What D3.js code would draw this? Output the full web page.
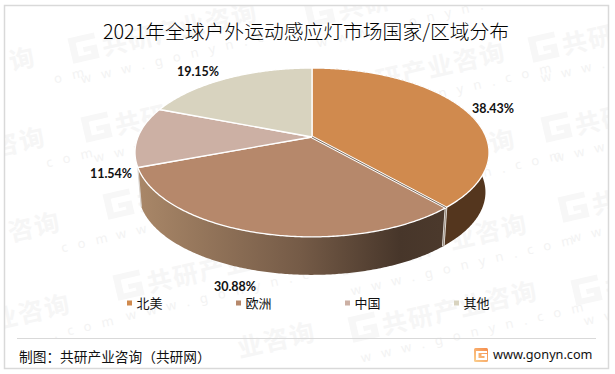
<!DOCTYPE html>
<html>
<head>
<meta charset="utf-8">
<script src="https://cdn.jsdelivr.net/npm/d3@7"></script>
<style>
  html, body { margin: 0; padding: 0; background: #fff; }
  svg { display: block; }
</style>
</head>
<body>
<div id="container"></div>
<script>
/* DATA */
const categories = ["北美", "欧洲", "中国", "其他"];
const shares = [38.43, 30.88, 11.54, 19.15];
const shareLabels = ["38.43%", "30.88%", "11.54%", "19.15%"];
const topColors = ["#d08a4e", "#b6886b", "#ccb0a4", "#d8d3bf"];

/* CONSTANTS */
const width = 615, height = 374;
const cjk = "'Noto Sans CJK SC', 'Noto Sans', sans-serif";

// pie plane: centre, half axes, perspective and wall height
const cx = 312, cy = 137, rx = 174, ry = 81.6, persp = 0.183, wall = 40, shrink = 0.98;
// label spots, same order as the categories
const labelX = [493, 235, 111, 198], labelY = [109, 287, 174, 72];

const svg = d3.select("#container").append("svg")
  .attr("width", width)
  .attr("height", height);

const defs = svg.append("defs");

defs.append("clipPath").attr("id", "frameClip")
  .append("rect")
  .attr("x", 5).attr("y", 6)
  .attr("width", 603).attr("height", 362);

/* WATERMARK */
// x, y, first and last char of the name that stays inside the frame, url part
const markName = "共研产业咨询", markUrl = "www.gonyn.com";
const charStep = 26.5, urlStep = 18.2;
const markRows = [
  [-150, 103, 5, 6, 11, 13], [-140, 183, 4, 6, 10, 13], [-125, 268, 4, 6, 10, 13], [-115, 350, 3, 6, 9, 13],
  [72, 58, 0, 6, 0, 13], [85, 137, 0, 6, 0, 13], [107, 214, 0, 6, 0, 13], [117, 295, 0, 6, 0, 13], [130, 378, 3, 6, 0, 0],
  [308, 22, 0, 2, 0, 13], [320, 98, 0, 6, 0, 13], [330, 185, 0, 6, 0, 13], [342, 270, 0, 6, 0, 13], [352, 337, 0, 6, 0, 13],
  [532, 57, 0, 2, 0, 4], [545, 137, 0, 2, 0, 4], [562, 217, 0, 2, 0, 3], [575, 300, 0, 1, 0, 2]
];
const marks = svg.append("g").attr("clip-path", "url(#frameClip)");
markRows.forEach(([x, y, n0, n1, u0, u1]) => {
  const m = marks.append("g").attr("transform", `translate(${x},${y}) rotate(-13)`);
  if (n0 === 0) {
    m.append("path")
      .attr("d", "M0,-20h27v6h-20v14h13v-3h-7v-5h14v14h-27z")
      .attr("fill", "#f7f7f7");
  }
  m.append("text")
    .attr("x", 32 + n0 * charStep).attr("y", 5)
    .attr("font-family", cjk).attr("font-weight", 700).attr("font-size", 25)
    .attr("letter-spacing", 1.5)
    .attr("fill", "#f6f6f6")
    .text(markName.slice(n0, n1));
  if (u1 > u0) {
    m.append("text")
      .attr("x", 4 + u0 * urlStep).attr("y", 27)
      .attr("font-family", "'Noto Sans', sans-serif").attr("font-size", 13)
      .attr("letter-spacing", 10.5)
      .attr("fill", "#f3f3f3")
      .text(markUrl.slice(u0, u1));
  }
});

/* FRAME */
svg.append("rect")
  .attr("x", 4.5).attr("y", 5.5)
  .attr("width", 604).attr("height", 363)
  .attr("fill", "none")
  .attr("stroke", "#d9d9d9")
  .attr("stroke-width", 1.5);

svg.append("text")
  .attr("x", 306).attr("y", 39)
  .attr("text-anchor", "middle")
  .attr("font-family", cjk).attr("font-size", 19.8).attr("font-weight", 300)
  .attr("fill", "#000")
  .text("2021年全球户外运动感应灯市场国家/区域分布");

/* PIE */
const arcs = d3.pie().sort(null).value(d => d)(shares);

// angle 0 is the back of the pie, clockwise seen from above
const project = (a, drop = 0, scale = 1) => {
  const v = -Math.cos(a);
  const s = scale / (1 - persp * v);
  return [cx + rx * Math.sin(a) * s, cy + ry * v * s + drop];
};
const sweep = (a0, a1, drop, scale) => {
  const n = Math.ceil(Math.abs(a1 - a0) / 0.01);
  return d3.range(n + 1).map(i => project(a0 + (a1 - a0) * i / n, drop, scale));
};
const line = d3.line();

const xSide = d3.scaleLinear().domain([138, 440]).range([0, 100]);
const grad = defs.append("linearGradient")
  .attr("id", "sideBrown")
  .attr("gradientUnits", "userSpaceOnUse")
  .attr("x1", 138).attr("x2", 440).attr("y1", 0).attr("y2", 0);
grad.append("stop").attr("offset", xSide(138) + "%").attr("stop-color", "#a98768");
grad.append("stop").attr("offset", xSide(300) + "%").attr("stop-color", "#755b47");
grad.append("stop").attr("offset", xSide(400) + "%").attr("stop-color", "#47362a");
grad.append("stop").attr("offset", xSide(440) + "%").attr("stop-color", "#4b392c");

const sideFill = ["#54361e", "url(#sideBrown)"];
const pie = svg.append("g");

// walls, only the two front slices show one
arcs.slice(0, 2).forEach((d, i) => {
  const pts = sweep(d.startAngle, d.endAngle, 0, 1)
    .concat(sweep(d.endAngle, d.startAngle, wall, shrink));
  pie.append("path")
    .attr("d", line(pts) + "Z")
    .attr("fill", sideFill[i]);
});

// double edge where the walls of the two slices meet
const seam = arcs[0].endAngle;
const seamPts = [project(seam), project(seam, wall, shrink)];
pie.append("path").attr("d", line(seamPts)).attr("fill", "none")
  .attr("stroke", "#e8e4df").attr("stroke-width", 2.6);
pie.append("path").attr("d", line(seamPts)).attr("fill", "none")
  .attr("stroke", "#8a7d70").attr("stroke-width", 0.9);

// thin edge on the far left of the brown wall
const leftEdge = arcs[1].endAngle;
pie.append("path")
  .attr("d", line([project(leftEdge), project(leftEdge, wall, shrink)]))
  .attr("fill", "none").attr("stroke", "#d9d4cf").attr("stroke-width", 1.2);

// top faces
arcs.forEach((d, i) => {
  const pts = [[cx, cy]].concat(sweep(d.startAngle, d.endAngle, 0, 1));
  pie.append("path")
    .attr("d", line(pts) + "Z")
    .attr("fill", topColors[i])
    .attr("stroke", "#fff")
    .attr("stroke-width", 1.3)
    .attr("stroke-linejoin", "round");
});

// the dark split between orange and brown
const split = [[cx, cy], project(seam)];
pie.append("path").attr("d", line(split)).attr("fill", "none")
  .attr("stroke", "#fff").attr("stroke-width", 2.8);
pie.append("path").attr("d", line(split)).attr("fill", "none")
  .attr("stroke", "#6d5b4c").attr("stroke-width", 0.9);

/* LABELS */
svg.append("g").selectAll("text")
  .data(shareLabels)
  .join("text")
  .attr("x", (d, i) => labelX[i])
  .attr("y", (d, i) => labelY[i])
  .attr("dy", "0.35em")
  .attr("text-anchor", "middle")
  .attr("font-family", "Lato, sans-serif")
  .attr("font-weight", 700)
  .attr("font-size", 12.5)
  .attr("fill", "#111")
  .text(d => d);

/* LEGEND */
const legendX = d3.scalePoint().domain(categories).range([127, 454]);
const legend = svg.append("g").selectAll("g")
  .data(categories)
  .join("g")
  .attr("transform", d => `translate(${legendX(d)},303)`);
legend.append("rect")
  .attr("y", -2.5)
  .attr("width", 5).attr("height", 5)
  .attr("fill", (d, i) => topColors[i]);
legend.append("text")
  .attr("x", 9.5)
  .attr("dy", "0.36em")
  .attr("font-family", cjk)
  .attr("font-size", 13)
  .attr("fill", "#111")
  .text(d => d);

/* FOOTER */
svg.append("line")
  .attr("x1", 17).attr("x2", 596)
  .attr("y1", 338.5).attr("y2", 338.5)
  .attr("stroke", "#d9d9d9");

svg.append("text")
  .attr("x", 19).attr("y", 357)
  .attr("dy", "0.36em")
  .attr("font-family", cjk)
  .attr("font-size", 13.7)
  .attr("fill", "#111")
  .text("制图：共研产业咨询（共研网）");

const logoGrad = defs.append("linearGradient")
  .attr("id", "logoFill")
  .attr("x1", 1).attr("x2", 0).attr("y1", 0).attr("y2", 1);
logoGrad.append("stop").attr("offset", "0%").attr("stop-color", "#f58a4a");
logoGrad.append("stop").attr("offset", "100%").attr("stop-color", "#fbd08f");
const logo = svg.append("g").attr("transform", "translate(474,348)");
logo.append("rect")
  .attr("width", 14).attr("height", 14).attr("rx", 1.5)
  .attr("fill", "url(#logoFill)");
logo.append("path")
  .attr("d", "M2,3h11v2h-8.500v5h6v-2h-3v-2h5.500v6h-11z")
  .attr("fill", "#fff");

svg.append("text")
  .attr("x", 493).attr("y", 354.5)
  .attr("dy", "0.36em")
  .attr("font-family", "'Noto Sans', sans-serif")
  .attr("font-size", 12.7)
  .attr("fill", "#111")
  .text("www.gonyn.com");
</script>
</body>
</html>
